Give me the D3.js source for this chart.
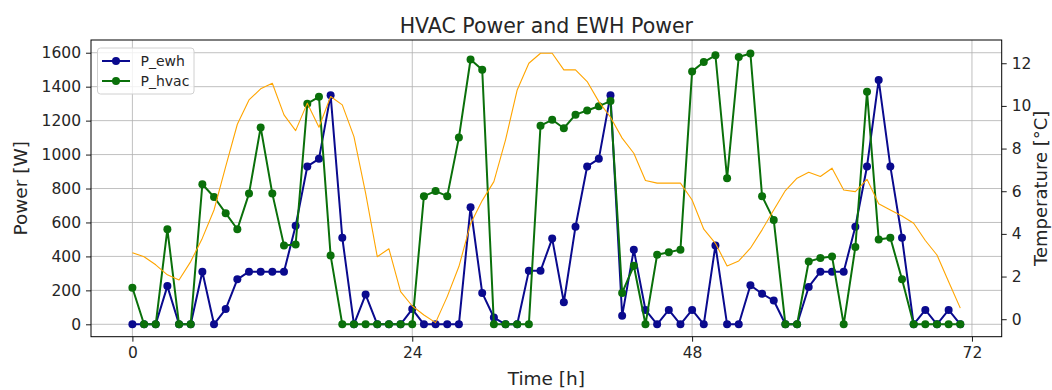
<!DOCTYPE html>
<html>
<head>
<meta charset="utf-8">
<script src="https://cdn.jsdelivr.net/npm/d3@7"></script>
<style>
  body { margin: 0; background: #fff; }
  svg { display: block; }
  text { font-family: "DejaVu Sans", sans-serif; fill: #262626; }
</style>
</head>
<body>
<svg id="chart" width="1052" height="390"></svg>
<script>
// Hourly time index [h]
const hours = [0,1,2,3,4,5,6,7,8,9,10,11,12,13,14,15,16,17,18,19,20,21,22,23,
  24,25,26,27,28,29,30,31,32,33,34,35,36,37,38,39,40,41,42,43,44,45,46,47,
  48,49,50,51,52,53,54,55,56,57,58,59,60,61,62,63,64,65,66,67,68,69,70,71];

// Electric water heater power [W]
const pEwh = [0,0,0,225,0,0,310,0,90,265,310,310,310,310,580,930,975,1350,510,0,175,0,0,0,
  90,0,0,0,0,690,185,40,0,0,315,315,505,130,575,930,975,1350,50,440,85,0,85,0,
  85,0,465,0,0,230,180,140,0,0,220,310,310,310,575,930,1440,930,510,0,85,0,85,0];

// HVAC power [W]
const pHvac = [215,0,0,560,0,0,825,750,655,560,770,1160,770,465,470,1300,1340,405,0,0,0,0,0,0,
  0,755,785,755,1100,1560,1500,0,0,0,0,1170,1205,1155,1235,1260,1285,1315,185,345,0,410,425,440,
  1490,1545,1585,860,1575,1595,755,615,0,0,370,390,400,0,455,1370,500,510,265,0,0,0,0,0];

// Outdoor temperature [°C]
const tempC = [3.12,2.93,2.55,2.08,1.84,2.70,3.80,5.12,7.15,9.14,10.28,10.80,11.06,9.58,8.84,10.13,9.0,10.44,10.05,8.56,5.91,2.93,3.30,1.29,
  0.62,0.20,-0.16,1.06,2.47,4.47,5.56,6.45,8.41,10.75,12.0,12.47,12.47,11.69,11.69,11.14,10.2,9.47,8.49,7.78,6.50,6.38,6.38,6.38,
  5.59,4.22,3.56,2.50,2.73,3.33,4.19,5.12,6.03,6.61,6.89,6.69,7.08,6.06,5.98,6.56,5.41,5.12,4.84,4.50,3.69,3.01,1.76,0.52];

// Tick values
const xTicks = [0, 24, 48, 72];
const powerTicks = [0, 200, 400, 600, 800, 1000, 1200, 1400, 1600];
const tempTicks = [0, 2, 4, 6, 8, 10, 12];

const W = 1052, H = 390;
const plot = { left: 91, right: 1001.7, top: 40, bottom: 336.7 };

const svg = d3.select("#chart");
svg.append("rect").attr("width", W).attr("height", H).attr("fill", "#fff");

const x = d3.scaleLinear().domain([-3.55, 74.55]).range([plot.left, plot.right]);
const yP = d3.scaleLinear().domain([-73, 1675]).range([plot.bottom, plot.top]);
const yT = d3.scaleLinear().domain([-0.82, 13.09]).range([plot.bottom, plot.top]);

// Grid
const grid = svg.append("g").attr("stroke", "#b0b0b0").attr("stroke-width", 0.8).attr("fill", "none");
xTicks.forEach(t => grid.append("line")
  .attr("x1", x(t)).attr("x2", x(t)).attr("y1", plot.top).attr("y2", plot.bottom));
powerTicks.forEach(t => grid.append("line")
  .attr("x1", plot.left).attr("x2", plot.right).attr("y1", yP(t)).attr("y2", yP(t)));

svg.append("defs").append("clipPath").attr("id", "plotclip")
  .append("rect").attr("x", plot.left).attr("y", plot.top)
  .attr("width", plot.right - plot.left).attr("height", plot.bottom - plot.top);

const marks = svg.append("g").attr("clip-path", "url(#plotclip)");

function series(values, color) {
  const pts = hours.map((h, i) => [h, values[i]]);
  const line = d3.line().x(d => x(d[0])).y(d => yP(d[1]));
  marks.append("path").datum(pts)
    .attr("d", line).attr("fill", "none")
    .attr("stroke", color).attr("stroke-width", 2).attr("stroke-linejoin", "round");
  marks.append("g").selectAll("circle").data(pts).join("circle")
    .attr("cx", d => x(d[0])).attr("cy", d => yP(d[1])).attr("r", 4)
    .attr("fill", color);
}
series(pEwh, "#0a0a8e");
series(pHvac, "#0a700a");

// Temperature on the secondary axis
const tLine = d3.line().x((d, i) => x(hours[i])).y(d => yT(d));
marks.append("path").datum(tempC).attr("d", tLine)
  .attr("fill", "none").attr("stroke", "#ffa500").attr("stroke-width", 1.1)
  .attr("stroke-linejoin", "round");

// Axes
function styleAxis(g) {
  g.select(".domain").remove();
  g.selectAll(".tick line").attr("stroke", "#000").attr("stroke-width", 0.9);
  g.selectAll(".tick text").style("font-size", "15.5px").attr("fill", "#262626");
}

svg.append("g").attr("transform", `translate(0,${plot.bottom})`)
  .call(d3.axisBottom(x).tickValues(xTicks).tickSize(5).tickPadding(5).tickFormat(d3.format("d")))
  .call(styleAxis);

svg.append("g").attr("transform", `translate(${plot.left},0)`)
  .call(d3.axisLeft(yP).tickValues(powerTicks).tickSize(5).tickPadding(5).tickFormat(d3.format("d")))
  .call(styleAxis);

svg.append("g").attr("transform", `translate(${plot.right},0)`)
  .call(d3.axisRight(yT).tickValues(tempTicks).tickSize(5).tickPadding(5).tickFormat(d3.format("d")))
  .call(styleAxis);

// Frame
svg.append("rect").attr("x", plot.left).attr("y", plot.top)
  .attr("width", plot.right - plot.left).attr("height", plot.bottom - plot.top)
  .attr("fill", "none").attr("stroke", "#000").attr("stroke-width", 1);

// Title and axis labels
svg.append("text").attr("x", (plot.left + plot.right) / 2).attr("y", 32.5)
  .attr("text-anchor", "middle").style("font-size", "20.5px")
  .text("HVAC Power and EWH Power");
svg.append("text").attr("x", (plot.left + plot.right) / 2).attr("y", 385)
  .attr("text-anchor", "middle").style("font-size", "18.5px")
  .text("Time [h]");
svg.append("text").attr("transform", `translate(27,${(plot.top + plot.bottom) / 2}) rotate(-90)`)
  .attr("text-anchor", "middle").style("font-size", "18.5px")
  .text("Power [W]");
svg.append("text").attr("transform", `translate(1033,${(plot.top + plot.bottom) / 2}) rotate(-90)`)
  .attr("text-anchor", "middle").attr("dominant-baseline", "hanging").style("font-size", "18px")
  .text("Temperature [°C]");

// Legend
const legendItems = [
  { label: "P_ewh", color: "#0a0a8e" },
  { label: "P_hvac", color: "#0a700a" }
];
const lg = svg.append("g");
lg.append("rect").attr("x", 97.5).attr("y", 48).attr("width", 96.5).attr("height", 46)
  .attr("rx", 3).attr("fill", "#fff").attr("fill-opacity", 0.8)
  .attr("stroke", "#d0d0d0").attr("stroke-width", 1);
legendItems.forEach((it, i) => {
  const cy = 61 + i * 20;
  lg.append("line").attr("x1", 102).attr("x2", 130).attr("y1", cy).attr("y2", cy)
    .attr("stroke", it.color).attr("stroke-width", 2);
  lg.append("circle").attr("cx", 116).attr("cy", cy).attr("r", 4).attr("fill", it.color);
  lg.append("text").attr("x", 140.5).attr("y", cy + 5).style("font-size", "14px").text(it.label);
});
</script>
</body>
</html>
